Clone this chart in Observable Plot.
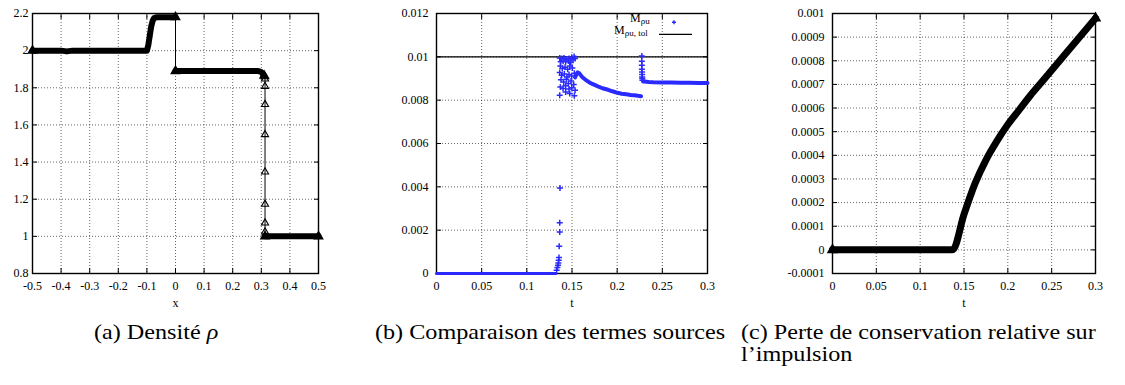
<!DOCTYPE html>
<html><head><meta charset="utf-8">
<script src="https://cdn.jsdelivr.net/npm/d3@7"></script>
<script src="https://cdn.jsdelivr.net/npm/@observablehq/plot@0.6"></script>
<style>
html,body{margin:0;padding:0;background:#fff;}
body{width:1125px;height:385px;position:relative;overflow:hidden;font-family:"Liberation Serif","DejaVu Serif",Tinos,"Times New Roman",Times,serif;color:#000;}
.panel{position:absolute;top:0;}
.cap{position:absolute;font-size:21px;line-height:22px;white-space:nowrap;transform:scaleX(1.15);transform-origin:0 0;}
.leg{position:absolute;font-size:12px;line-height:13px;white-space:nowrap;}
.leg sub{font-size:9px;vertical-align:-2px;}
</style></head>
<body>
<div id="p1" class="panel" style="left:0px"></div>
<div id="p2" class="panel" style="left:375px"></div>
<div id="p3" class="panel" style="left:750px"></div>
<div class="leg" style="left:630px;top:12px">M<sub>ρu</sub></div>
<div class="leg" style="left:614px;top:24px">M<sub>ρu, tol</sub></div>
<svg style="position:absolute;left:655px;top:15px" width="45" height="25">
  <path d="M17,7.3h4M19,5.3v4" stroke="#2a2aff" stroke-width="1.4"/>
  <line x1="4" x2="37" y1="19.3" y2="19.3" stroke="#000" stroke-width="1.2"/>
</svg>
<div class="cap" style="left:94px;top:321px">(a) Densité <i>ρ</i></div>
<div class="cap" style="left:375px;top:321px">(b) Comparaison des termes sources</div>
<div class="cap" style="left:741px;top:321px">(c) Perte de conservation relative sur<br>l’impulsion</div>
<script>
// ---------- Panel (a): density ----------
const rhoXTicks = [-0.5,-0.4,-0.3,-0.2,-0.1,0,0.1,0.2,0.3,0.4,0.5];
const rhoYTicks = [0.8,1,1.2,1.4,1.6,1.8,2,2.2];
const leftX  = [-0.5,-0.45,-0.4,-0.38,-0.36,-0.3,-0.2,-0.1,-0.095,-0.09,-0.085,-0.08,-0.075,-0.065,-0.05,-0.02,0.0];
const leftRho= [2.0,2.0,2.0,1.996,2.0,2.0,2.0,2.0,2.03,2.08,2.13,2.16,2.175,2.18,2.18,2.18,2.18];
const midX   = [0.0,0.05,0.1,0.15,0.2,0.25,0.29,0.3,0.305,0.31];
const midRho = [1.89,1.89,1.89,1.89,1.89,1.89,1.89,1.885,1.875,1.865];
const shockX = [0.313,0.313,0.313,0.313,0.313,0.313,0.313,0.313,0.313];
const shockRho=[1.86,1.848,1.808,1.71,1.548,1.347,1.173,1.072,1.024];
const rightX = [0.313,0.35,0.4,0.45,0.5];
const rightRho=[1.0,1.0,1.0,1.0,1.0];

// ---------- Panel (b): source terms ----------
const srcXTicks = [0,0.05,0.1,0.15,0.2,0.25,0.3];
const srcYTicks = [0,0.002,0.004,0.006,0.008,0.01,0.012];
const tolerance = 0.01;
const zeroT = [0,0.03,0.06,0.09,0.12,0.132];
const zeroM = [0,0,0,0,0,0];
const riseT = [0.1330,0.1338,0.1345,0.1349,0.1353,0.1356,0.1358,0.1364,0.1364,0.1367];
const riseM = [0.00015,0.00028,0.00038,0.00049,0.00061,0.00074,0.00126,0.00192,0.00234,0.00395];
const clusterT = [0.1364,0.1386,0.1412,0.1438,0.1467,0.1497,0.1523,0.1534,0.1375,0.1401,0.1430,0.1460,0.1486,0.1511,
  0.1371,0.1393,0.1423,0.1452,0.1475,0.1504,0.1364,0.1386,0.1415,0.1445,0.1467,0.1497,0.1526,
  0.1378,0.1408,0.1438,0.1460,0.1489,0.1519,0.1371,0.1401,0.1430,0.1467,0.1497,0.1534,0.1364,0.1526,0.1430,0.1475];
const clusterM = [0.00995,0.00992,0.00995,0.00989,0.00992,0.00998,0.01002,0.00992,0.00977,0.00980,0.00977,0.00981,0.00974,0.00985,
  0.00958,0.00946,0.00952,0.00943,0.00958,0.00949,0.00928,0.00915,0.00921,0.00907,0.00918,0.00912,0.00924,
  0.00894,0.00884,0.00897,0.00877,0.00888,0.00872,0.00861,0.00854,0.00866,0.00851,0.00857,0.00846,0.00823,0.00820,0.00838,0.00831];
const decayT = [0.1534,0.1550,0.1563,0.1580,0.1615,0.165,0.1689,0.1725,0.1763,0.18,0.1837,0.19,0.1948,0.2003,0.205,0.21,0.215,0.2188,0.223,0.2265];
const decayM = [0.00905,0.0092,0.00928,0.00924,0.00906,0.00894,0.00883,0.00875,0.00868,0.00861,0.00855,0.00848,0.00841,0.00834,0.0083,0.00827,0.00824,0.00823,0.0082,0.00818];
const jumpT = [0.2273,0.2273,0.2273,0.2274,0.2275,0.2276,0.2277,0.2278,0.228];
const jumpM = [0.01004,0.0098,0.00961,0.00943,0.0093,0.00918,0.00907,0.009,0.00892];
const flatT = [0.2285,0.23,0.235,0.24,0.25,0.26,0.27,0.28,0.29,0.3];
const flatM = [0.00888,0.00886,0.00884,0.00883,0.00882,0.00881,0.0088,0.0088,0.00879,0.00879];

// ---------- Panel (c): relative momentum conservation loss ----------
const lossXTicks = [0,0.05,0.1,0.15,0.2,0.25,0.3];
const lossYTicks = [-0.0001,0,0.0001,0.0002,0.0003,0.0004,0.0005,0.0006,0.0007,0.0008,0.0009,0.001];
const lossT = [0,0.05,0.1,0.137,0.15,0.1625,0.175,0.1875,0.2,0.2125,0.225,0.2375,0.25,0.2625,0.275,0.2875,0.3];
const lossV = [0,0,0,0,0.00015,0.00028,0.00038,0.00046,0.00053,0.00059,0.00065,0.000705,0.00076,0.000815,0.00087,0.000925,0.00098];

// ---------- helpers ----------
const zip = (xs, ys) => xs.map((x, i) => ({x, y: ys[i]}));
const fmt = d => String(d);
const BLUE = "#2a2aff";
const SERIF = "'Liberation Serif', 'DejaVu Serif', Tinos, 'Times New Roman', Times, serif";
function gnuFrame(xTicks, yTicks, xLabel, yPad) {
  const g = {stroke: "#000", strokeOpacity: 0.6, strokeDasharray: "1,2", strokeWidth: 1};
  return [
    Plot.gridX(xTicks, g),
    Plot.gridY(yTicks, g),
    Plot.axisX(xTicks, {anchor: "bottom", tickSize: 0, tickPadding: 8, tickFormat: fmt, label: null}),
    Plot.axisY(yTicks, {anchor: "left", tickSize: 0, tickPadding: yPad, tickFormat: fmt, label: null}),
    Plot.axisX(xTicks, {anchor: "bottom", fill: "none", tickSize: 5, dy: -5, label: null}),
    Plot.axisX(xTicks, {anchor: "top", fill: "none", tickSize: 5, dy: 5, label: null}),
    Plot.axisY(yTicks, {anchor: "left", fill: "none", tickSize: 5, dx: 5, label: null}),
    Plot.axisY(yTicks, {anchor: "right", fill: "none", tickSize: 5, dx: -5, label: null}),
    Plot.frame({stroke: "#000", strokeWidth: 1.4}),
    Plot.text([xLabel], {frameAnchor: "bottom", dy: 33, text: d => d, fontSize: 12})
  ];
}
const style = {fontFamily: SERIF, fontSize: "12px", background: "transparent", overflow: "visible", color: "#000"};

// Panel (a)
{
  const left = zip(leftX, leftRho), mid = zip(midX, midRho), shock = zip(shockX, shockRho), right = zip(rightX, rightRho);
  const all = [...left, ...mid, ...shock, ...right];
  const ends = [left[0], left[left.length-1], mid[0], mid[mid.length-1], right[0], right[right.length-1]];
  const p = Plot.plot({
    width: 375, height: 310, marginLeft: 32, marginRight: 57, marginTop: 13, marginBottom: 37,
    style,
    x: {domain: [-0.5, 0.5]}, y: {domain: [0.8, 2.2]},
    marks: [
      ...gnuFrame(rhoXTicks, rhoYTicks, "x", 4),
      Plot.line(all, {x: "x", y: "y", stroke: "#000", strokeWidth: 1}),
      Plot.line(left, {x: "x", y: "y", stroke: "#000", strokeWidth: 6}),
      Plot.line(mid, {x: "x", y: "y", stroke: "#000", strokeWidth: 6}),
      Plot.line(right, {x: "x", y: "y", stroke: "#000", strokeWidth: 6}),
      Plot.dot(ends, {x: "x", y: "y", symbol: "triangle", r: 4, fill: "#000", stroke: "none"}),
      Plot.dot(shock, {x: "x", y: "y", symbol: "triangle2", r: 3.4, stroke: "#000", strokeWidth: 1.1, fill: "none"})
    ]
  });
  document.getElementById("p1").append(p);
}

// Panel (b)
{
  const zero = zip(zeroT, zeroM), rise = zip(riseT, riseM), cluster = zip(clusterT, clusterM);
  const decay = zip(decayT, decayM), jump = zip(jumpT, jumpM), flat = zip(flatT, flatM);
  const sparse = [...rise, ...cluster, ...jump];
  const p = Plot.plot({
    width: 375, height: 310, marginLeft: 61, marginRight: 43, marginTop: 13, marginBottom: 37,
    style,
    x: {domain: [0, 0.3]}, y: {domain: [0, 0.012]},
    marks: [
      ...gnuFrame(srcXTicks, srcYTicks, "t", 8),
      Plot.ruleY([tolerance], {stroke: "#000", strokeWidth: 1.2}),
      Plot.line(zero, {x: "x", y: "y", stroke: BLUE, strokeWidth: 3}),
      Plot.line(decay, {x: "x", y: "y", stroke: BLUE, strokeWidth: 4}),
      Plot.line(flat, {x: "x", y: "y", stroke: BLUE, strokeWidth: 4}),
      Plot.dot(sparse, {x: "x", y: "y", symbol: "plus", r: 2.1, stroke: BLUE, strokeWidth: 1.5})
    ]
  });
  document.getElementById("p2").append(p);
}

// Panel (c)
{
  const loss = zip(lossT, lossV);
  const ends = [loss[0], loss[loss.length-1]];
  const p = Plot.plot({
    width: 375, height: 310, marginLeft: 82, marginRight: 30, marginTop: 13, marginBottom: 37,
    style,
    x: {domain: [0, 0.3]}, y: {domain: [-0.0001, 0.001]},
    marks: [
      ...gnuFrame(lossXTicks, lossYTicks, "t", 8),
      Plot.line(loss, {x: "x", y: "y", stroke: "#000", strokeWidth: 7, curve: "monotone-x"}),
      Plot.dot(ends, {x: "x", y: "y", symbol: "triangle", r: 4.3, fill: "#000", stroke: "none"})
    ]
  });
  document.getElementById("p3").append(p);
}
</script>
</body></html>
